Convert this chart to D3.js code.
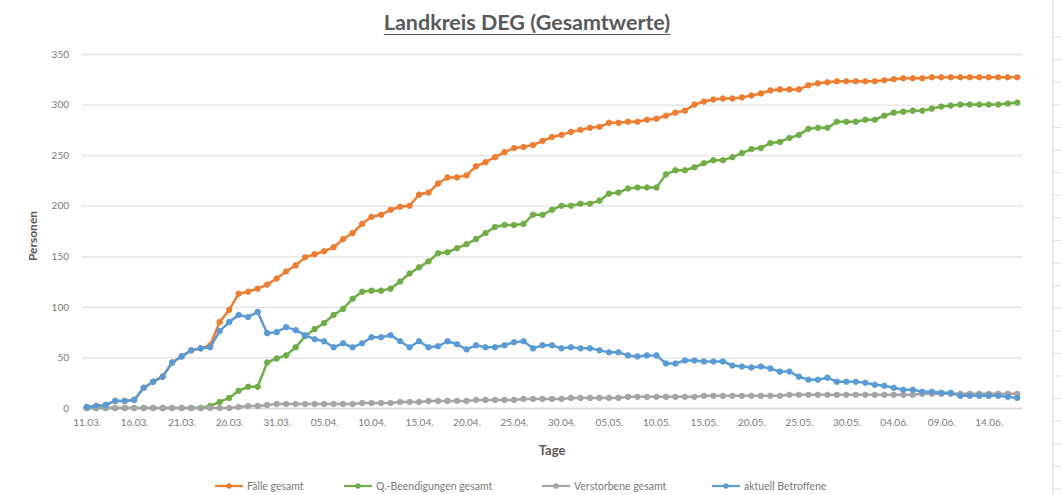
<!DOCTYPE html>
<html><head><meta charset="utf-8">
<script src="https://cdn.jsdelivr.net/npm/d3@7"></script>
<style>
html,body{margin:0;padding:0;background:#fff;}
svg{display:block;font-family:Lato,"Open Sans",sans-serif;}
</style></head>
<body>
<svg id="chart" width="1061" height="495"></svg>
<script>
// Categories: daily dates 11.03. – 17.06.
const startDate = new Date(2020, 2, 11);
const endDate = new Date(2020, 5, 18);
const tickLabels = ["11.03.","16.03.","21.03.","26.03.","31.03.","05.04.","10.04.","15.04.","20.04.","25.04.",
  "30.04.","05.05.","10.05.","15.05.","20.05.","25.05.","30.05.","04.06.","09.06.","14.06."];
const yTicks = [0,50,100,150,200,250,300,350];

const faelle = [1,2,3,7,7,8,20,26,31,45, 51,57,59,62,85,97,113,115,118,122,
  128,135,141,149,152,155,159,167,173,182, 189,191,196,199,200,211,213,222,228,228,
  230,239,243,248,253,257,258,260,264,268, 270,273,275,277,278,282,282,283,283,285,
  286,289,292,294,300,303,305,306,306,307, 309,311,314,315,315,315,319,321,322,323,
  323,323,323,323,324,325,326,326,326,327, 327,327,327,327,327,327,327,327,327];
const beendigungen = [0,0,0,0,0,0,0,0,0,0, 0,0,0,2,6,10,17,21,21,45,
  49,52,60,71,78,84,92,98,108,115, 116,116,118,125,133,139,145,153,154,158,
  162,167,173,179,181,181,182,191,191,196, 200,200,202,202,205,212,213,217,218,218,
  218,231,235,235,238,242,245,245,248,252, 256,257,262,263,267,270,276,277,277,283,
  283,283,285,285,289,292,293,294,294,296, 298,299,300,300,300,300,300,301,302];
const verstorbene = [0,0,0,0,0,0,0,0,0,0, 0,0,0,0,0,0,1,2,2,3,
  4,4,4,4,4,4,4,4,4,5, 5,5,5,6,6,6,7,7,7,7,
  7,8,8,8,8,8,9,9,9,9, 9,10,10,10,10,10,10,11,11,11,
  11,11,11,11,11,12,12,12,12,12, 12,12,12,12,13,13,13,13,13,13,
  13,13,13,13,13,13,13,13,14,14, 14,14,14,14,14,14,14,14,14];
const betroffene = [1,2,3,7,7,8,20,26,31,45, 51,57,59,60,76,85,92,90,95,74,
  75,80,77,72,68,66,60,64,60,64, 70,70,72,66,60,66,60,61,66,63,
  58,62,60,60,62,65,66,59,62,62, 59,60,59,59,57,55,55,52,51,52,
  52,44,44,47,47,46,46,46,42,41, 40,41,39,36,36,31,28,28,30,26,
  26,26,25,23,22,20,18,18,16,16, 15,15,12,12,12,12,12,11,10];

const seriesNames = ["Fälle gesamt","Q.-Beendigungen gesamt","Verstorbene gesamt","aktuell Betroffene"];
const seriesColors = ["#ED7D31","#70AD47","#A5A5A5","#5B9BD5"];
const seriesValues = [faelle, beendigungen, verstorbene, betroffene];

const fmt = d3.timeFormat("%d.%m.");
const categories = d3.timeDay.range(startDate, endDate).map(fmt);

const svg = d3.select("#chart");
const W = 1061, H = 495;
const plot = {left: 82, right: 1022, top: 54, bottom: 408};

const x = d3.scalePoint().domain(categories).range([plot.left, plot.right]).padding(0.5);
const y = d3.scaleLinear().domain([0, 350]).range([plot.bottom, plot.top]);

// spreadsheet cells at right edge
const cellG = svg.append("g");
cellG.append("line").attr("x1",1053).attr("x2",1053).attr("y1",0).attr("y2",H)
  .attr("stroke","#d4d4d4").attr("stroke-width",1);
d3.range(37, H, 22.6).forEach(v => {
  cellG.append("line").attr("x1",1053).attr("x2",1061).attr("y1",v).attr("y2",v)
    .attr("stroke","#e2e2e2").attr("stroke-width",1);
});

// gridlines + y labels
const yAxis = d3.axisLeft(y).tickValues(yTicks).tickSize(-(plot.right - plot.left)).tickPadding(13);
const gy = svg.append("g").attr("transform", `translate(${plot.left},0)`).call(yAxis);
gy.select(".domain").remove();
gy.selectAll(".tick line").attr("stroke","#e3e3e3").attr("stroke-width",1.3);
gy.selectAll(".tick text").attr("fill","#7a7a7a").attr("font-size","10px").attr("font-family","Lato, sans-serif");

// x axis
const xAxis = d3.axisBottom(x).tickValues(tickLabels).tickSize(0).tickPadding(11);
const gx = svg.append("g").attr("transform", `translate(0,${plot.bottom})`).call(xAxis);
gx.select(".domain").attr("stroke","#d9d9d9").attr("stroke-width",1.3);
gx.selectAll(".tick text").attr("fill","#7a7a7a").attr("font-size","10px").attr("font-family","Lato, sans-serif");

// lines
const line = d3.line().x((d,i) => x(categories[i])).y(d => y(d));
seriesValues.forEach((vals, s) => {
  const g = svg.append("g");
  g.append("path").datum(vals).attr("d", line).attr("fill","none")
    .attr("stroke", seriesColors[s]).attr("stroke-width", 2.5).attr("stroke-linejoin","round");
  g.selectAll("circle").data(vals).join("circle")
    .attr("cx", (d,i) => x(categories[i])).attr("cy", d => y(d)).attr("r", 2.8)
    .attr("fill", seriesColors[s]).attr("stroke", seriesColors[s]).attr("stroke-width", 0.8);
});

// title
const title = svg.append("text").attr("x", 527).attr("y", 30).attr("text-anchor","middle")
  .attr("font-size","21.5px").attr("font-weight","bold").attr("fill","#595959")
  .text("Landkreis DEG (Gesamtwerte)");
const tb = title.node().getBBox();
svg.append("line").attr("x1", tb.x).attr("x2", tb.x + tb.width).attr("y1", 34.5).attr("y2", 34.5)
  .attr("stroke","#595959").attr("stroke-width",1.2);

// axis titles
svg.append("text").attr("transform","translate(37,236) rotate(-90)").attr("text-anchor","middle")
  .attr("font-size","12px").attr("font-weight","bold").attr("fill","#595959").text("Personen");
svg.append("text").attr("x", 552).attr("y", 455).attr("text-anchor","middle")
  .attr("font-size","13px").attr("font-weight","bold").attr("fill","#595959").text("Tage");

// legend
const legendX = [215, 344, 542, 712];
const leg = svg.append("g");
seriesNames.forEach((name, s) => {
  const lx = legendX[s], ly = 486;
  leg.append("line").attr("x1", lx).attr("x2", lx + 28).attr("y1", ly).attr("y2", ly)
    .attr("stroke", seriesColors[s]).attr("stroke-width", 2.2);
  leg.append("circle").attr("cx", lx + 14).attr("cy", ly).attr("r", 2.7).attr("fill", seriesColors[s]);
  leg.append("text").attr("x", lx + 32).attr("y", ly + 3.5).attr("font-size","10.5px")
    .attr("fill","#7a7a7a").text(name);
});
</script>
</body></html>
